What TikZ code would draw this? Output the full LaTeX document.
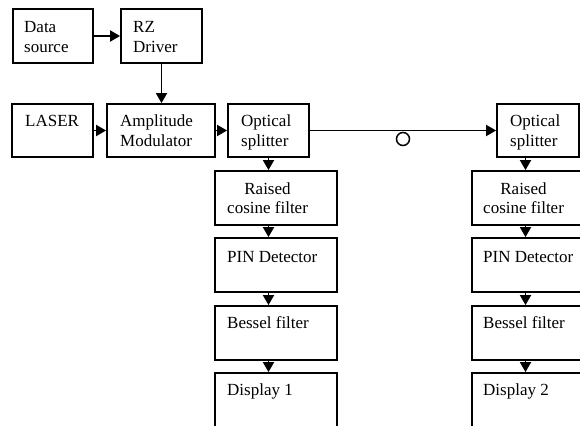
\documentclass[tikz,border=0pt]{standalone}
\usepackage{fontspec}
\setmainfont{Liberation Serif}
\usetikzlibrary{arrows.meta}
\begin{document}
\begin{tikzpicture}[x=1pt,y=-1pt,
  block/.style={draw=black,line width=1.8pt,rectangle,inner sep=0pt,minimum height=54pt},
  lbl/.style={anchor=base west,inner sep=0pt,font=\fontsize{17pt}{20pt}\selectfont},
  lblc/.style={anchor=base,inner sep=0pt,font=\fontsize{17pt}{20pt}\selectfont},
  arr/.style={line width=1.8pt,-{Triangle[length=10pt,width=11pt]}},
  ring/.style={draw=black,line width=1.5pt,circle,inner sep=0pt,minimum size=13pt}]
\useasboundingbox (0,0) rectangle (580,425);
\clip (0,0) rectangle (580,425);

% transmitter
\node[block,minimum width=80pt] (ds) at (53,36) {};
\node[block,minimum width=81pt] (rz) at (161.5,36) {};
\node[block,minimum width=81pt,minimum height=53pt] (la) at (52.5,130.5) {};
\node[block,minimum width=108pt,minimum height=53pt] (am) at (161,130.5) {};
\node[block,minimum width=81pt,minimum height=53pt] (sa) at (268.5,130.5) {};
\node[block,minimum width=82pt,minimum height=53pt] (sb) at (538,130.5) {};

\node[lbl] (dsA) at (24,33) {Data};
\node[lbl] (dsB) at (24,53) {source};
\node[lbl] (rzA) at (133,33) {RZ};
\node[lbl] (rzB) at (133,53) {Driver};
\node[lbl] (laA) at (25,126) {LASER};
\node[lbl] (amA) at (120,126) {Amplitude};
\node[lbl] (amB) at (120,146) {Modulator};
\node[lbl] (saA) at (241,126) {Optical};
\node[lbl] (saB) at (241,146) {splitter};
\node[lbl] (sbA) at (510,126) {Optical};
\node[lbl] (sbB) at (510,146) {splitter};

% fibre span marker
\node[ring] (fb) at (403,139) {};

% receiver branch 1
\node[block,minimum width=122pt] (rca) at (276,198) {};
\node[block,minimum width=122pt] (pna) at (276,265) {};
\node[block,minimum width=122pt] (bsa) at (276,333) {};
\node[block,minimum width=122pt,minimum height=80pt] (dpa) at (276,413) {};
\node[lblc] (rcaA) at (267.5,194) {Raised};
\node[lbl] (rcaB) at (227,213) {cosine filter};
\node[lbl] (pnaA) at (227,262) {PIN Detector};
\node[lbl] (bsaA) at (227,328) {Bessel filter};
\node[lbl] (dpaA) at (227,395) {Display 1};

% receiver branch 2
\node[block,minimum width=122pt] (rcb) at (533,198) {};
\node[block,minimum width=122pt] (pnb) at (533,265) {};
\node[block,minimum width=122pt] (bsb) at (533,333) {};
\node[block,minimum width=122pt,minimum height=80pt] (dpb) at (533,413) {};
\node[lblc] (rcbA) at (523.5,194) {Raised};
\node[lbl] (rcbB) at (483,213) {cosine filter};
\node[lbl] (pnbA) at (483,262) {PIN Detector};
\node[lbl] (bsbA) at (483,328) {Bessel filter};
\node[lbl] (dpbA) at (483,395) {Display 2};

% connectors
\draw[arr] (ds.east) -- (rz.west);
\draw[arr] (rz.south) -- (rz.south |- am.north);
\draw[arr] (la.east) -- (am.west);
\draw[arr] (am.east) -- (sa.west);
\draw[arr] (sa.east) -- (sb.west);

\draw[arr] (sa.south) -- (sa.south |- rca.north);
\draw[arr] (sa.south |- rca.south) -- (sa.south |- pna.north);
\draw[arr] (sa.south |- pna.south) -- (sa.south |- bsa.north);
\draw[arr] (sa.south |- bsa.south) -- (sa.south |- dpa.north);

\coordinate (sbx) at ([xshift=-12.5pt]sb.south);
\draw[arr] (sbx) -- (sbx |- rcb.north);
\draw[arr] (sbx |- rcb.south) -- (sbx |- pnb.north);
\draw[arr] (sbx |- pnb.south) -- (sbx |- bsb.north);
\draw[arr] (sbx |- bsb.south) -- (sbx |- dpb.north);
\end{tikzpicture}
\end{document}
